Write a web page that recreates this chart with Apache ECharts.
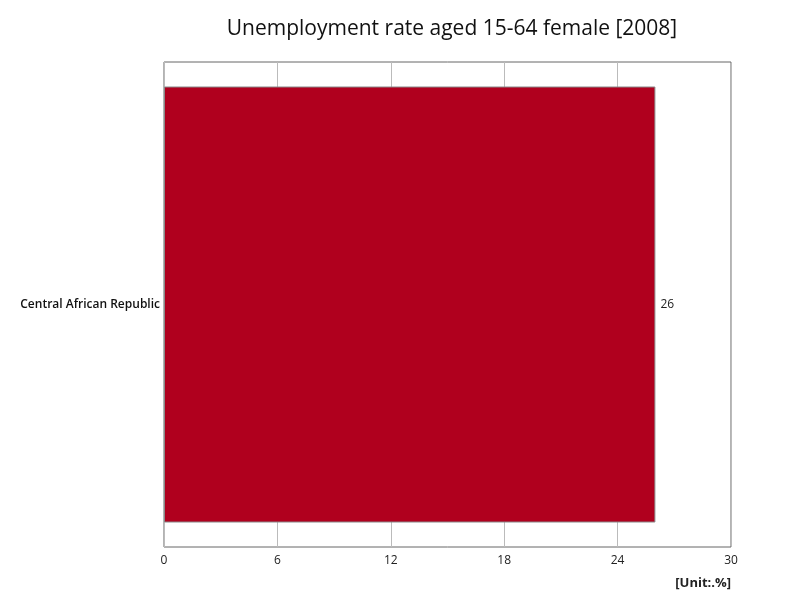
<!DOCTYPE html>
<html>
<head>
<meta charset="utf-8">
<script src="https://cdn.jsdelivr.net/npm/echarts@6/dist/echarts.min.js"></script>
<style>html,body{margin:0;padding:0;background:#fff}#c{width:800px;height:600px}</style>
</head>
<body>
<div id="c"></div>
<script>
const titleText = 'Unemployment rate aged 15-64 female [2008]';
const categories = ['Central African Republic'];
const values = [26];
const xTicks = [0, 6, 12, 18, 24, 30];
const unitText = '[Unit:.%]';

const chart = echarts.init(document.getElementById('c'));
chart.setOption({
  animation: false,
  backgroundColor: '#fff',
  textStyle: { fontFamily: 'Open Sans' },
  title: {
    text: titleText,
    left: 447, textAlign: 'center', top: 14,
    textStyle: { fontSize: 21, fontWeight: 'normal', color: '#111', fontFamily: 'Open Sans' }
  },
  grid: { left: 164, right: 69, top: 62, bottom: 53, show: true, borderColor: '#666', borderWidth: 1 },
  xAxis: {
    type: 'value', min: xTicks[0], max: xTicks[xTicks.length - 1], interval: 6,
    axisLine: { show: false }, axisTick: { show: false },
    splitLine: { lineStyle: { color: '#bbb', width: 1 } },
    axisLabel: { color: '#222', fontSize: 12, margin: 8 },
    name: unitText, nameLocation: 'end',
    nameTextStyle: { fontWeight: 'bold', fontSize: 13, color: '#222', align: 'right', verticalAlign: 'top', padding: [30, 0, 0, 0] },
    nameGap: 0
  },
  yAxis: {
    type: 'category', data: categories, inverse: true,
    axisLine: { show: false }, axisTick: { show: false },
    axisLabel: { color: '#111', fontSize: 12, fontWeight: 600, margin: 4 }
  },
  series: [{
    type: 'bar', data: values, barWidth: 436,
    itemStyle: { color: '#b0001e', borderColor: '#888', borderWidth: 1 },
    label: { show: true, position: 'right', color: '#222', fontSize: 12, distance: 5 }
  }]
});
</script>
</body>
</html>
